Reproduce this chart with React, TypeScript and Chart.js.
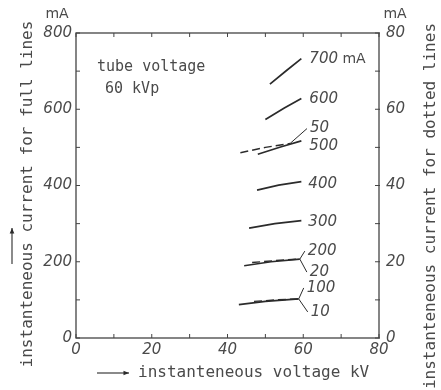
import { useEffect, useRef } from "react";
import { Chart, registerables } from "chart.js";

Chart.register(...registerables);

// ---- data ----
const xTickLabels = [0, 20, 40, 60, 80];
const leftTickLabels = [0, 200, 400, 600, 800];
const rightTickLabels = [0, 20, 40, 60, 80];

// full lines (left axis, mA)
const fullCurrents = ["700", "600", "500", "400", "300", "200", "100"];
const fullKV: number[][] = [
  [51.2, 55.5, 59.5],
  [50.0, 55.0, 59.5],
  [48.0, 54.0, 59.5],
  [47.8, 53.5, 59.5],
  [45.7, 52.5, 59.5],
  [44.4, 51.5, 59.1],
  [43.0, 50.0, 58.8],
];
const fullMA: number[][] = [
  [666, 701, 733],
  [573, 603, 628],
  [482, 501, 517],
  [388, 401, 410],
  [288, 300, 308],
  [189.5, 200, 207],
  [87.6, 96, 102.5],
];

// dotted lines (right axis, mA)
const dottedCurrents = ["50", "20", "10"];
const dottedKV: number[][] = [
  [43.4, 50.0, 56.5],
  [46.5, 52.5, 59.1],
  [47.0, 53.0, 58.8],
];
const dottedMA: number[][] = [
  [48.6, 50.0, 51.0],
  [19.8, 20.3, 20.7],
  [9.6, 10.0, 10.25],
];

// ---- styles / label placement (pixels relative to curve end) ----
const LINE = "#2b2b2b";
const TEXT = "#4a4a4a";
const AXIS = "#444";
const TICK_FONT = { family: "DejaVu Sans", size: 15, style: "italic" as const };
const fullLabelOffsets: [number, number, boolean][] = [
  [8, 1, false],
  [8, 1, false],
  [8, 5, false],
  [7, 2, false],
  [7, 2, false],
  [8, -8, true],
  [8, -11, true],
];
const dottedLabelOffsets: [number, number, boolean][] = [
  [20, -15, true],
  [10, 13, true],
  [12, 13, true],
];

function fixBox(w: number | null, h: number | null) {
  return (scale: any) => {
    if (w !== null) scale.width = w;
    if (h !== null) scale.height = h;
    scale.paddingLeft = 0;
    scale.paddingRight = 0;
    scale.paddingTop = 0;
    scale.paddingBottom = 0;
  };
}

function arrow(ctx: CanvasRenderingContext2D, x1: number, y1: number, x2: number, y2: number) {
  ctx.beginPath();
  ctx.moveTo(x1, y1);
  ctx.lineTo(x2, y2);
  ctx.stroke();
  const ang = Math.atan2(y2 - y1, x2 - x1);
  const L = 6;
  ctx.beginPath();
  ctx.moveTo(x2, y2);
  ctx.lineTo(x2 - L * Math.cos(ang - 0.4), y2 - L * Math.sin(ang - 0.4));
  ctx.lineTo(x2 - L * Math.cos(ang + 0.4), y2 - L * Math.sin(ang + 0.4));
  ctx.closePath();
  ctx.fill();
}

const overlay = {
  id: "overlay",
  afterDatasetsDraw(chart: any) {
    const { ctx, chartArea: a, scales } = chart;
    const sx = scales.x;
    const sy = scales.y;
    const sy2 = scales.y2;
    ctx.save();
    // frame
    ctx.strokeStyle = AXIS;
    ctx.lineWidth = 1.3;
    ctx.strokeRect(a.left, a.top, a.right - a.left, a.bottom - a.top);
    // inner ticks
    ctx.lineWidth = 1;
    const seg = (x1: number, y1: number, x2: number, y2: number) => {
      ctx.beginPath();
      ctx.moveTo(x1, y1);
      ctx.lineTo(x2, y2);
      ctx.stroke();
    };
    sx.ticks.forEach((t: any) => {
      const px = sx.getPixelForValue(t.value);
      seg(px, a.bottom, px, a.bottom - 4);
      seg(px, a.top, px, a.top + 4);
    });
    sy.ticks.forEach((t: any) => {
      const py = sy.getPixelForValue(t.value);
      seg(a.left, py, a.left + 4, py);
    });
    sy2.ticks.forEach((t: any) => {
      const py = sy2.getPixelForValue(t.value);
      seg(a.right - 4, py, a.right + 1, py);
    });

    // curve labels
    ctx.fillStyle = TEXT;
    ctx.strokeStyle = LINE;
    ctx.textBaseline = "middle";
    ctx.textAlign = "left";
    const drawLabel = (text: string, ex: number, ey: number, off: [number, number, boolean], unit: boolean) => {
      const lx = ex + off[0];
      const ly = ey + off[1];
      if (off[2]) {
        ctx.lineWidth = 1;
        seg(ex, ey, lx - 3, ly);
      }
      ctx.font = 'italic 15px "DejaVu Sans"';
      ctx.fillText(text, lx, ly);
      if (unit) {
        const w = ctx.measureText(text).width;
        ctx.font = '14px "DejaVu Sans"';
        ctx.fillText(" mA", lx + w, ly);
      }
    };
    fullCurrents.forEach((c, i) => {
      const k = fullKV[i];
      const m = fullMA[i];
      const ex = sx.getPixelForValue(k[k.length - 1]);
      const ey = sy.getPixelForValue(m[m.length - 1]);
      drawLabel(c, ex, ey, fullLabelOffsets[i], i === 0);
    });
    dottedCurrents.forEach((c, i) => {
      const k = dottedKV[i];
      const m = dottedMA[i];
      const ex = sx.getPixelForValue(k[k.length - 1]);
      const ey = sy2.getPixelForValue(m[m.length - 1]);
      drawLabel(c, ex, ey, dottedLabelOffsets[i], false);
    });

    // annotation text
    ctx.font = '15px "DejaVu Sans Mono"';
    ctx.fillText("tube voltage", 97, 67);
    ctx.fillText("60 kVp", 105, 89);

    // unit labels
    ctx.textAlign = "center";
    ctx.font = '14px "DejaVu Sans"';
    ctx.fillText("mA", 57, 14);
    ctx.fillText("mA", 395, 14);

    // axis titles
    ctx.font = '16px "DejaVu Sans Mono"';
    ctx.textAlign = "left";
    ctx.fillText("instanteneous voltage kV", 138, 373);
    ctx.fillStyle = LINE;
    ctx.strokeStyle = LINE;
    ctx.lineWidth = 1.1;
    arrow(ctx, 97, 373, 129, 373);
    arrow(ctx, 12, 264, 12, 228);

    ctx.fillStyle = TEXT;
    ctx.textAlign = "center";
    ctx.save();
    ctx.translate(28, 194);
    ctx.rotate(-Math.PI / 2);
    ctx.fillText("instanteneous current for full lines", 0, 0);
    ctx.restore();
    ctx.save();
    ctx.translate(431, 206);
    ctx.rotate(-Math.PI / 2);
    ctx.fillText("instanteneous current for dotted lines", 0, 0);
    ctx.restore();

    ctx.restore();
  },
};

export default function App() {
  const ref = useRef<HTMLCanvasElement | null>(null);
  useEffect(() => {
    if (!ref.current) return;
    const datasets: any[] = [];
    fullCurrents.forEach((c, i) => {
      datasets.push({
        label: c + " mA",
        data: fullKV[i].map((k, j) => ({ x: k, y: fullMA[i][j] })),
        yAxisID: "y",
        showLine: true,
        borderColor: LINE,
        borderWidth: 1.7,
        pointRadius: 0,
        fill: false,
      });
    });
    dottedCurrents.forEach((c, i) => {
      datasets.push({
        label: c + " mA",
        data: dottedKV[i].map((k, j) => ({ x: k, y: dottedMA[i][j] })),
        yAxisID: "y2",
        showLine: true,
        borderColor: LINE,
        borderWidth: 1.4,
        borderDash: [8, 4],
        pointRadius: 0,
        fill: false,
      });
    });
    const gridOff = { display: false, drawTicks: false, tickLength: 0 };
    const chart = new Chart(ref.current, {
      type: "scatter",
      data: { datasets },
      options: {
        animation: false,
        responsive: false,
        devicePixelRatio: 1,
        layout: { padding: { top: 33, left: 0, right: 0, bottom: 0 } },
        plugins: { legend: { display: false }, tooltip: { enabled: false } },
        scales: {
          x: {
            type: "linear",
            position: "bottom",
            min: 0,
            max: 80,
            grid: gridOff,
            border: { display: false },
            ticks: {
              stepSize: 10,
              autoSkip: false,
              maxRotation: 0,
              padding: 3,
              color: TEXT,
              font: TICK_FONT,
              callback: (v: any) => (xTickLabels.includes(Number(v)) ? String(v) : ""),
            },
            afterFit: fixBox(null, 52),
          },
          y: {
            type: "linear",
            position: "left",
            min: 0,
            max: 800,
            grid: gridOff,
            border: { display: false },
            ticks: {
              stepSize: 100,
              autoSkip: false,
              padding: 4,
              color: TEXT,
              font: TICK_FONT,
              callback: (v: any) => (leftTickLabels.includes(Number(v)) ? String(v) : ""),
            },
            afterFit: fixBox(76, null),
          },
          y2: {
            type: "linear",
            position: "right",
            min: 0,
            max: 80,
            grid: gridOff,
            border: { display: false },
            ticks: {
              stepSize: 10,
              autoSkip: false,
              padding: 7,
              color: TEXT,
              font: TICK_FONT,
              callback: (v: any) => (rightTickLabels.includes(Number(v)) ? String(v) : ""),
            },
            afterFit: fixBox(62, null),
          },
        },
      } as any,
      plugins: [overlay],
    });
    return () => chart.destroy();
  }, []);
  return (
    <div style={{ position: "absolute", left: 0, top: 0, width: 441, height: 390, background: "#fff" }}>
      <canvas ref={ref} width={441} height={390} style={{ display: "block" }} />
    </div>
  );
}
